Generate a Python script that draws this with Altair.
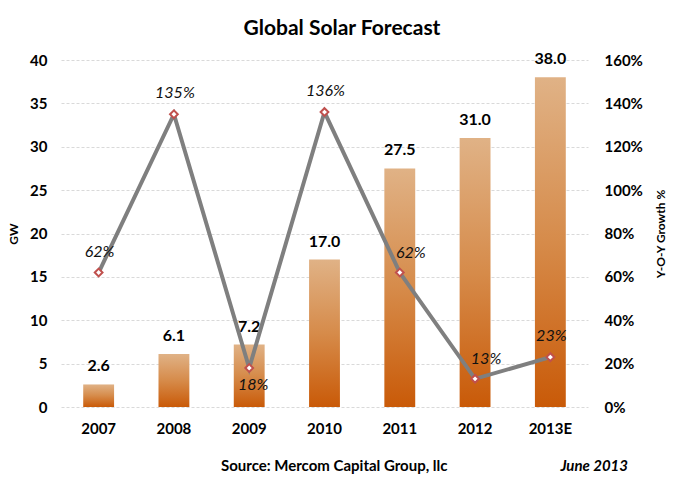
import altair as alt
import pandas as pd

# Installed capacity (GW) and year-over-year growth per year
years = ["2007", "2008", "2009", "2010", "2011", "2012", "2013E"]
capacity_gw = [2.6, 6.1, 7.2, 17.0, 27.5, 31.0, 38.0]
growth = [0.62, 1.35, 0.18, 1.36, 0.62, 0.13, 0.23]

# where each growth label sits relative to its marker
label_above = ["2007", "2008", "2010", "2013E"]
label_below = ["2009"]
label_right = ["2011", "2012"]

FONT = "Lato"
W, H = 527, 347

df = pd.DataFrame({"year": years, "gw": capacity_gw, "growth": growth})

x_enc = alt.X(
    "year:N",
    sort=years,
    title=None,
    scale=alt.Scale(paddingInner=0.59, paddingOuter=0.295),
    axis=alt.Axis(
        labelAngle=0, labelFontSize=15, labelFontWeight="bold", labelFont=FONT,
        labelColor="black", labelPadding=14, ticks=False, domain=False, grid=False,
    ),
)

y_left = alt.Y(
    "gw:Q",
    scale=alt.Scale(domain=[0, 40], nice=False),
    axis=alt.Axis(
        orient="left", values=list(range(0, 45, 5)), title="GW",
        titleFont=FONT, titleFontSize=12, titleFontWeight="bold", titleColor="black",
        titleAngle=270, titleX=-48, titleY=H / 2, titleAlign="center", titleBaseline="middle",
        labelFont=FONT, labelFontSize=15, labelFontWeight="bold", labelColor="black",
        labelPadding=14, ticks=False, domain=False,
        grid=True, gridColor="#D9D9D9", gridDash=[3, 2], gridWidth=1,
    ),
)

y_right = alt.Y(
    "growth:Q",
    scale=alt.Scale(domain=[0, 1.6], nice=False),
    axis=alt.Axis(
        orient="right", values=[i / 10 for i in range(0, 17, 2)], format=".0%",
        title="Y-O-Y Growth %",
        titleFont=FONT, titleFontSize=12, titleFontWeight="bold", titleColor="black",
        titleAngle=270, titleX=72, titleY=H / 2, titleAlign="center", titleBaseline="middle",
        labelFont=FONT, labelFontSize=15, labelFontWeight="bold", labelColor="black",
        labelAlign="left", labelPadding=16, ticks=False, domain=False, grid=False,
    ),
)

bar_fill = alt.Gradient(
    gradient="linear",
    stops=[
        alt.GradientStop(color="#E0B286", offset=0),
        alt.GradientStop(color="#D68B4A", offset=0.5),
        alt.GradientStop(color="#C95A08", offset=1),
    ],
    x1=0, x2=0, y1=0, y2=1,
)

base = alt.Chart(df)

bars = base.mark_bar(fill=bar_fill).encode(x=x_enc, y=y_left)
bar_text = base.mark_text(
    font=FONT, fontSize=16, fontWeight="bold", color="black",
    baseline="alphabetic", dy=-13,
).encode(x=x_enc, y=y_left, text=alt.Text("gw:Q", format=".1f"))

left = alt.layer(bars, bar_text)

line = base.mark_line(color="#7F7F7F", strokeWidth=4).encode(x=x_enc, y=y_right)
points = base.mark_point(
    shape="diamond", filled=True, fill="white", stroke="#C0504D",
    strokeWidth=2, size=60, opacity=1,
).encode(x=x_enc, y=y_right)


def growth_labels(which, dx, dy):
    return base.transform_filter(
        alt.FieldOneOfPredicate(field="year", oneOf=which)
    ).mark_text(
        font=FONT, fontSize=16, fontStyle="italic", color="#111111",
        baseline="alphabetic", dx=dx, dy=dy,
    ).encode(x=x_enc, y=y_right, text=alt.Text("growth:Q", format=".0%"))


right = alt.layer(
    line,
    points,
    growth_labels(label_above, 1, -16),
    growth_labels(label_below, 4, 22),
    growth_labels(label_right, 11, -15),
)

notes = pd.DataFrame({"t": ["Global Solar Forecast"]})
title_text = alt.Chart(notes).mark_text(
    font=FONT, fontSize=21, fontWeight="bold", color="black",
    align="center", baseline="alphabetic",
).encode(text="t:N", x=alt.value(281), y=alt.value(-25))

source_text = alt.Chart(pd.DataFrame({"t": ["Source: Mercom Capital Group, llc"]})).mark_text(
    font=FONT, fontSize=15, fontWeight="bold", color="black",
    align="left", baseline="alphabetic",
).encode(text="t:N", x=alt.value(160), y=alt.value(411))

date_text = alt.Chart(pd.DataFrame({"t": ["June 2013"]})).mark_text(
    font=FONT, fontSize=15, fontWeight="bold", fontStyle="italic", color="black",
    align="right", baseline="alphabetic",
).encode(text="t:N", x=alt.value(567), y=alt.value(411))

chart = (
    alt.layer(left, right, title_text, source_text, date_text)
    .resolve_scale(y="independent")
    .properties(
        width=W,
        height=H,
        autosize=alt.AutoSizeParams(type="none"),
        padding={"left": 61, "top": 60, "right": 93, "bottom": 82},
        background="white",
    )
    .configure_view(stroke=None)
)

chart.save("out.html", embed_options={"renderer": "svg", "actions": False})
